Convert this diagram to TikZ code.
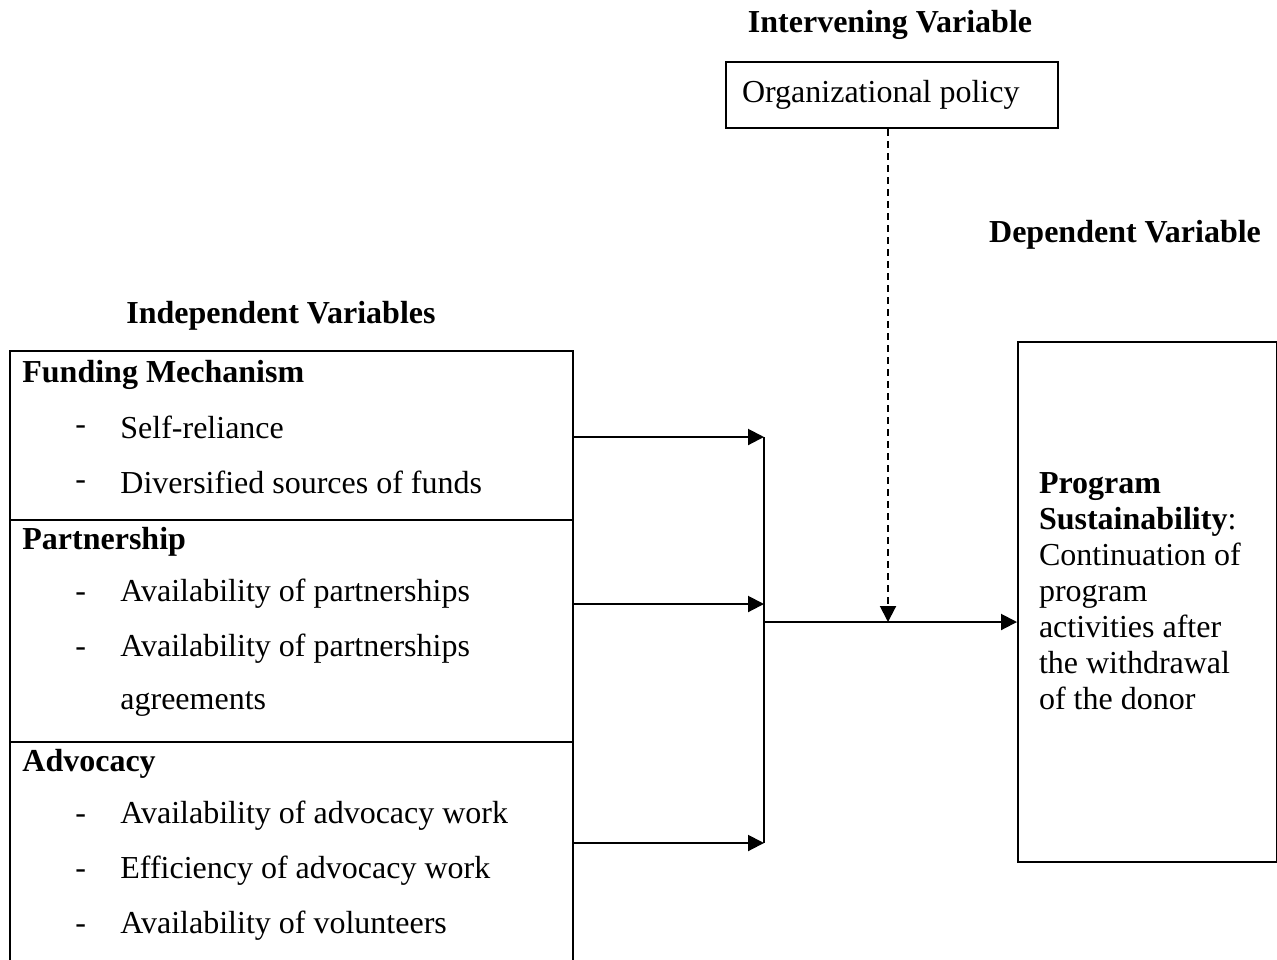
\documentclass[tikz,border=0pt]{standalone}
\usepackage{fontspec}
\setmainfont{Liberation Serif}
\usetikzlibrary{arrows.meta}

\tikzset{
    txt/.style={font=\fontsize{16pt}{18pt}\selectfont, inner sep=0pt,
                execute at begin node={\spaceskip=0pt\xspaceskip=0pt}},
    head/.style={txt, font=\fontsize{16pt}{18pt}\selectfont\bfseries},
    item/.style={txt, anchor=west},
    sect/.style={draw, line width=1pt, anchor=north west, minimum width=281.5pt},
    arr/.style={line width=1pt, -{Triangle[length=8pt,width=8pt]}}
}

\begin{document}
\begin{tikzpicture}[x=0.5pt, y=-0.5pt]
    \useasboundingbox (0,0) rectangle (1277,959);
    % Headings
    \node[head] (hint) at (890,25) {Intervening Variable};
    \node[head] (hdep) at (1125,235) {Dependent Variable};
    \node[head] (hind) at (281,316) {Independent Variables};
    % Intervening box
    \node[draw, line width=1pt, txt, text width=150pt, inner xsep=8pt, align=left,
          minimum height=33pt, anchor=west] (pol) at (725,95) {Organizational policy};
    % Dependent box
    \node[draw, line width=1pt, txt, text width=108.5pt, inner xsep=10.5pt, align=left,
          minimum height=260pt, anchor=north west] (dep) at (1017,341)
          {\textbf{Program}\\ \textbf{Sustainability}:\\ Continuation of\\ program\\
           activities after\\ the withdrawal\\ of the donor\\[-7pt]\mbox{}};
    % Independent boxes
    \node[sect, minimum height=84.5pt] (fund) at (9,350) {};
    \node[sect, minimum height=111pt] (part) at (9,519) {};
    \node[sect, minimum height=119.5pt] (advo) at (9,741) {};
    \node[head, anchor=west] (tfund) at (22,375) {Funding Mechanism};
    \node[head, anchor=west] (tpart) at (22,542) {Partnership};
    \node[head, anchor=west] (tadvo) at (22,764) {Advocacy};
    % Items
    \foreach \y/\t in {427/Self-reliance, 482/Diversified sources of funds,
                       594/Availability of partnerships, 649/Availability of partnerships,
                       816/Availability of advocacy work, 871/Efficiency of advocacy work,
                       926/Availability of volunteers} {
        \node[item] (d\y) at (75,\y+3) {-};
        \node[item] (i\y) at (120,\y) {\t};
    }
    \node[item] (i704) at (120,704) {agreements};
    % Arrows to the joining line
    \coordinate (j1) at (764,437);
    \coordinate (j2) at (764,604);
    \coordinate (j3) at (764,843);
    \coordinate (j0) at (764,622);
    \draw[arr] (fund.east |- j1) -- (j1);
    \draw[arr] (part.east |- j2) -- (j2);
    \draw[arr] (advo.east |- j3) -- (j3);
    \draw[line width=1pt] (j1) -- (j3);
    \draw[arr] (j0) -- (j0 -| dep.west);
    % Dashed arrow from the policy
    \draw[arr, dash pattern=on 3.5pt off 2.5pt] ([xshift=-2pt]pol.south) -- ([xshift=-2pt]pol.south |- j0);
\end{tikzpicture}
\end{document}
